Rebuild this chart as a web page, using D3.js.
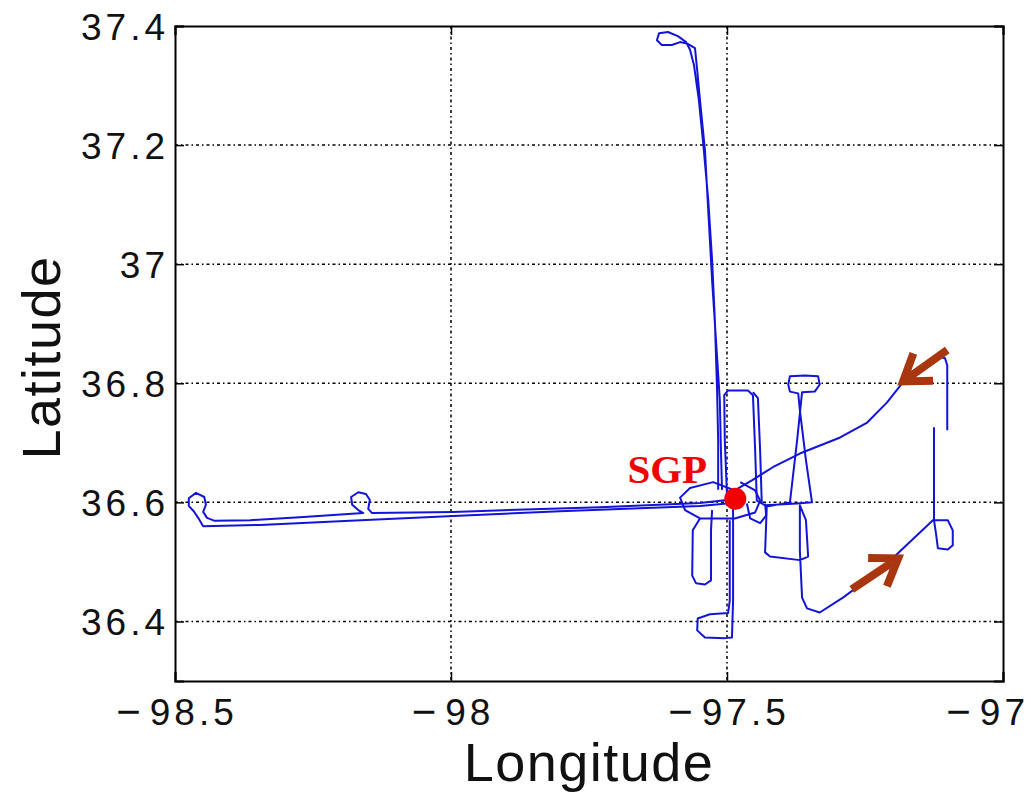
<!DOCTYPE html>
<html>
<head>
<meta charset="utf-8">
<script src="https://cdn.jsdelivr.net/npm/d3@7"></script>
<style>
  body { margin: 0; background: #fff; }
  .tick-label { font-family: "Liberation Sans", Arial, sans-serif; font-size: 37px; fill: #111; letter-spacing: 4px; }
  .axis-title { font-family: "Liberation Sans", Arial, sans-serif; font-size: 54px; fill: #111; letter-spacing: 1.5px; }
</style>
</head>
<body>
<div id="chart"></div>
<script>
// tick values
var xTicks = [-98.5, -98, -97.5, -97];
var yTicks = [36.4, 36.6, 36.8, 37, 37.2, 37.4];

// flight track legs, [longitude, latitude]
var westLeg = [
  [-97.500, 36.604], [-97.549, 36.599], [-97.730, 36.592], [-97.996, 36.584], [-98.143, 36.582],
  [-98.150, 36.589], [-98.147, 36.604], [-98.154, 36.614], [-98.168, 36.617], [-98.181, 36.609],
  [-98.179, 36.596], [-98.168, 36.587], [-98.159, 36.582], [-98.274, 36.575], [-98.364, 36.570],
  [-98.428, 36.569], [-98.442, 36.574], [-98.449, 36.584], [-98.444, 36.596], [-98.447, 36.609],
  [-98.462, 36.616], [-98.475, 36.607], [-98.475, 36.594], [-98.466, 36.585], [-98.458, 36.574],
  [-98.449, 36.560], [-98.346, 36.562], [-98.183, 36.569], [-97.996, 36.577], [-97.803, 36.585],
  [-97.658, 36.590], [-97.549, 36.594], [-97.500, 36.598]
];
var northLeg = [
  [-97.509, 36.621], [-97.511, 36.688], [-97.513, 36.772], [-97.520, 36.873], [-97.527, 36.973],
  [-97.533, 37.074], [-97.540, 37.192], [-97.549, 37.276], [-97.554, 37.326], [-97.558, 37.363],
  [-97.571, 37.370], [-97.585, 37.373], [-97.600, 37.368], [-97.618, 37.368], [-97.627, 37.376],
  [-97.623, 37.388], [-97.607, 37.390], [-97.589, 37.383], [-97.574, 37.373], [-97.567, 37.360],
  [-97.560, 37.335], [-97.551, 37.276], [-97.542, 37.192], [-97.534, 37.108], [-97.527, 37.007],
  [-97.522, 36.906], [-97.518, 36.789], [-97.516, 36.704], [-97.516, 36.621]
];
var boxLeg = [
  [-97.500, 36.612], [-97.504, 36.704], [-97.505, 36.780], [-97.498, 36.788], [-97.462, 36.788],
  [-97.453, 36.780], [-97.449, 36.687], [-97.446, 36.603], [-97.431, 36.595], [-97.373, 36.598],
  [-97.346, 36.600], [-97.357, 36.671], [-97.368, 36.755], [-97.371, 36.783], [-97.386, 36.786],
  [-97.389, 36.798], [-97.386, 36.812], [-97.359, 36.813], [-97.335, 36.812], [-97.332, 36.798],
  [-97.341, 36.786], [-97.364, 36.785], [-97.373, 36.704], [-97.386, 36.600], [-97.428, 36.593],
  [-97.431, 36.516], [-97.422, 36.509], [-97.368, 36.503], [-97.353, 36.509], [-97.357, 36.570],
  [-97.368, 36.595], [-97.368, 36.519], [-97.364, 36.440], [-97.355, 36.422], [-97.332, 36.415],
  [-97.290, 36.440], [-97.223, 36.486], [-97.127, 36.570], [-97.100, 36.570], [-97.091, 36.553],
  [-97.091, 36.528], [-97.100, 36.521], [-97.118, 36.523], [-97.121, 36.545], [-97.125, 36.570],
  [-97.125, 36.726]
];
var innerLeg = [[-97.437, 36.598], [-97.440, 36.687], [-97.444, 36.775], [-97.453, 36.785]];
var diagLeg = [
  [-97.486, 36.620], [-97.455, 36.637], [-97.417, 36.659], [-97.368, 36.682], [-97.295, 36.709],
  [-97.246, 36.734], [-97.210, 36.768], [-97.181, 36.802]
];
var eastStub = [[-97.101, 36.721], [-97.101, 36.830], [-97.105, 36.842], [-97.114, 36.844]];
var ringLeg = [
  [-97.486, 36.620], [-97.525, 36.634], [-97.567, 36.624], [-97.585, 36.608], [-97.576, 36.587],
  [-97.549, 36.573], [-97.486, 36.573], [-97.449, 36.583], [-97.440, 36.603], [-97.449, 36.620],
  [-97.476, 36.634]
];
var seLoop = [[-97.464, 36.598], [-97.458, 36.573], [-97.440, 36.565], [-97.429, 36.578], [-97.431, 36.598]];
var swLoop = [
  [-97.527, 36.587], [-97.529, 36.553], [-97.529, 36.469], [-97.540, 36.462], [-97.556, 36.464],
  [-97.563, 36.477], [-97.562, 36.553], [-97.549, 36.573]
];
var southLoop = [
  [-97.489, 36.603], [-97.489, 36.435], [-97.491, 36.373], [-97.504, 36.372], [-97.540, 36.373],
  [-97.554, 36.385], [-97.553, 36.405], [-97.531, 36.412], [-97.498, 36.414], [-97.495, 36.435],
  [-97.495, 36.570]
];
var legs = [westLeg, northLeg, boxLeg, innerLeg, diagLeg, eastStub, ringLeg, seLoop, swLoop, southLoop];

// site marker
var siteName = "SGP";
var siteLon = -97.485;
var siteLat = 36.606;

// direction arrows: [tail, tip]
var arrows = [
  [[-97.101, 36.856], [-97.181, 36.803]],
  [[-97.274, 36.454], [-97.190, 36.506]]
];

var svgWidth = 1031, svgHeight = 793;
var margin = {top: 26, right: 28, bottom: 112, left: 175};
var width = svgWidth - margin.left - margin.right;
var height = svgHeight - margin.top - margin.bottom;

var svg = d3.select("#chart").append("svg")
  .attr("width", svgWidth)
  .attr("height", svgHeight)
  .style("background", "#fff");

var g = svg.append("g").attr("transform", `translate(${margin.left}, ${margin.top})`);

var x = d3.scaleLinear().domain([-98.5, -97]).range([0, width]);
var y = d3.scaleLinear().domain([36.3, 37.4]).range([height, 0]);

// grid
g.append("g").selectAll("line").data(xTicks.slice(1, -1)).enter().append("line")
  .attr("x1", d => x(d)).attr("x2", d => x(d))
  .attr("y1", 0).attr("y2", height)
  .attr("stroke", "#000").attr("stroke-width", 1.5)
  .attr("stroke-dasharray", "3,3,1.5,3");
g.append("g").selectAll("line").data(yTicks.filter(d => d < 37.4)).enter().append("line")
  .attr("x1", 0).attr("x2", width)
  .attr("y1", d => y(d)).attr("y2", d => y(d))
  .attr("stroke", "#000").attr("stroke-width", 1.5)
  .attr("stroke-dasharray", "3,3,1.5,3");

// track
var line = d3.line().x(d => x(d[0])).y(d => y(d[1]));
g.append("g").selectAll("path").data(legs).enter().append("path")
  .attr("d", line)
  .attr("fill", "none")
  .attr("stroke", "#1414d8")
  .attr("stroke-width", 2)
  .attr("stroke-linejoin", "round");

// arrows
var arrowColor = "#a8360e";
arrows.forEach(function(a) {
  var x0 = x(a[0][0]), y0 = y(a[0][1]), x1 = x(a[1][0]), y1 = y(a[1][1]);
  var ang = Math.atan2(y0 - y1, x0 - x1);
  var len = 30, spread = 0.6;
  var p = `M${x0},${y0}L${x1},${y1}` +
    `M${x1 + len * Math.cos(ang - spread)},${y1 + len * Math.sin(ang - spread)}L${x1},${y1}` +
    `L${x1 + len * Math.cos(ang + spread)},${y1 + len * Math.sin(ang + spread)}`;
  g.append("path").attr("d", p)
    .attr("fill", "none").attr("stroke", arrowColor)
    .attr("stroke-width", 8).attr("stroke-linejoin", "miter");
});

// site
g.append("circle")
  .attr("cx", x(siteLon)).attr("cy", y(siteLat)).attr("r", 11)
  .attr("fill", "#f20000");
g.append("text")
  .attr("x", x(siteLon) - 68).attr("y", y(siteLat) - 16)
  .attr("text-anchor", "middle")
  .style("font-family", "'Liberation Serif', 'Times New Roman', serif")
  .style("font-weight", "bold").style("font-size", "41px")
  .attr("fill", "#f20000")
  .text(siteName);

// axes (ticks pointing inward, on all sides)
g.append("g").attr("transform", `translate(0, ${height})`)
  .call(d3.axisBottom(x).tickValues(xTicks).tickSize(-9).tickFormat(""));
g.append("g")
  .call(d3.axisTop(x).tickValues(xTicks).tickSize(-9).tickFormat(""));
g.append("g")
  .call(d3.axisLeft(y).tickValues(yTicks).tickSize(-9).tickFormat(""));
g.append("g").attr("transform", `translate(${width}, 0)`)
  .call(d3.axisRight(y).tickValues(yTicks).tickSize(-9).tickFormat(""));
g.selectAll(".domain").attr("stroke", "#000").attr("stroke-width", 2);
g.selectAll(".tick line").attr("stroke", "#000").attr("stroke-width", 1.5);

// x tick labels: long minus sign, the last one kept inside the picture
var xLabels = g.append("g").selectAll("text").data(xTicks).enter().append("text")
  .attr("class", "tick-label")
  .attr("x", (d, i) => i === xTicks.length - 1 ? svgWidth - margin.left - 2 : x(d) + 2)
  .attr("y", height + 44)
  .attr("text-anchor", (d, i) => i === xTicks.length - 1 ? "end" : "middle");
xLabels.append("tspan").style("font-size", "42px").attr("dy", 1).text("\u2212");
xLabels.append("tspan").attr("dx", 5).attr("dy", -1).text(d => Math.abs(d));

g.append("g").selectAll("text").data(yTicks).enter().append("text")
  .attr("class", "tick-label")
  .attr("x", -6).attr("y", d => y(d) + 14)
  .attr("text-anchor", "end")
  .text(d => d);

g.append("text")
  .attr("class", "axis-title")
  .attr("x", width / 2).attr("y", height + 100)
  .attr("text-anchor", "middle")
  .text("Longitude");

g.append("text")
  .attr("class", "axis-title")
  .attr("transform", `translate(${-115}, ${height / 2 + 4}) rotate(-90)`)
  .attr("text-anchor", "middle")
  .text("Latitude");
</script>
</body>
</html>
